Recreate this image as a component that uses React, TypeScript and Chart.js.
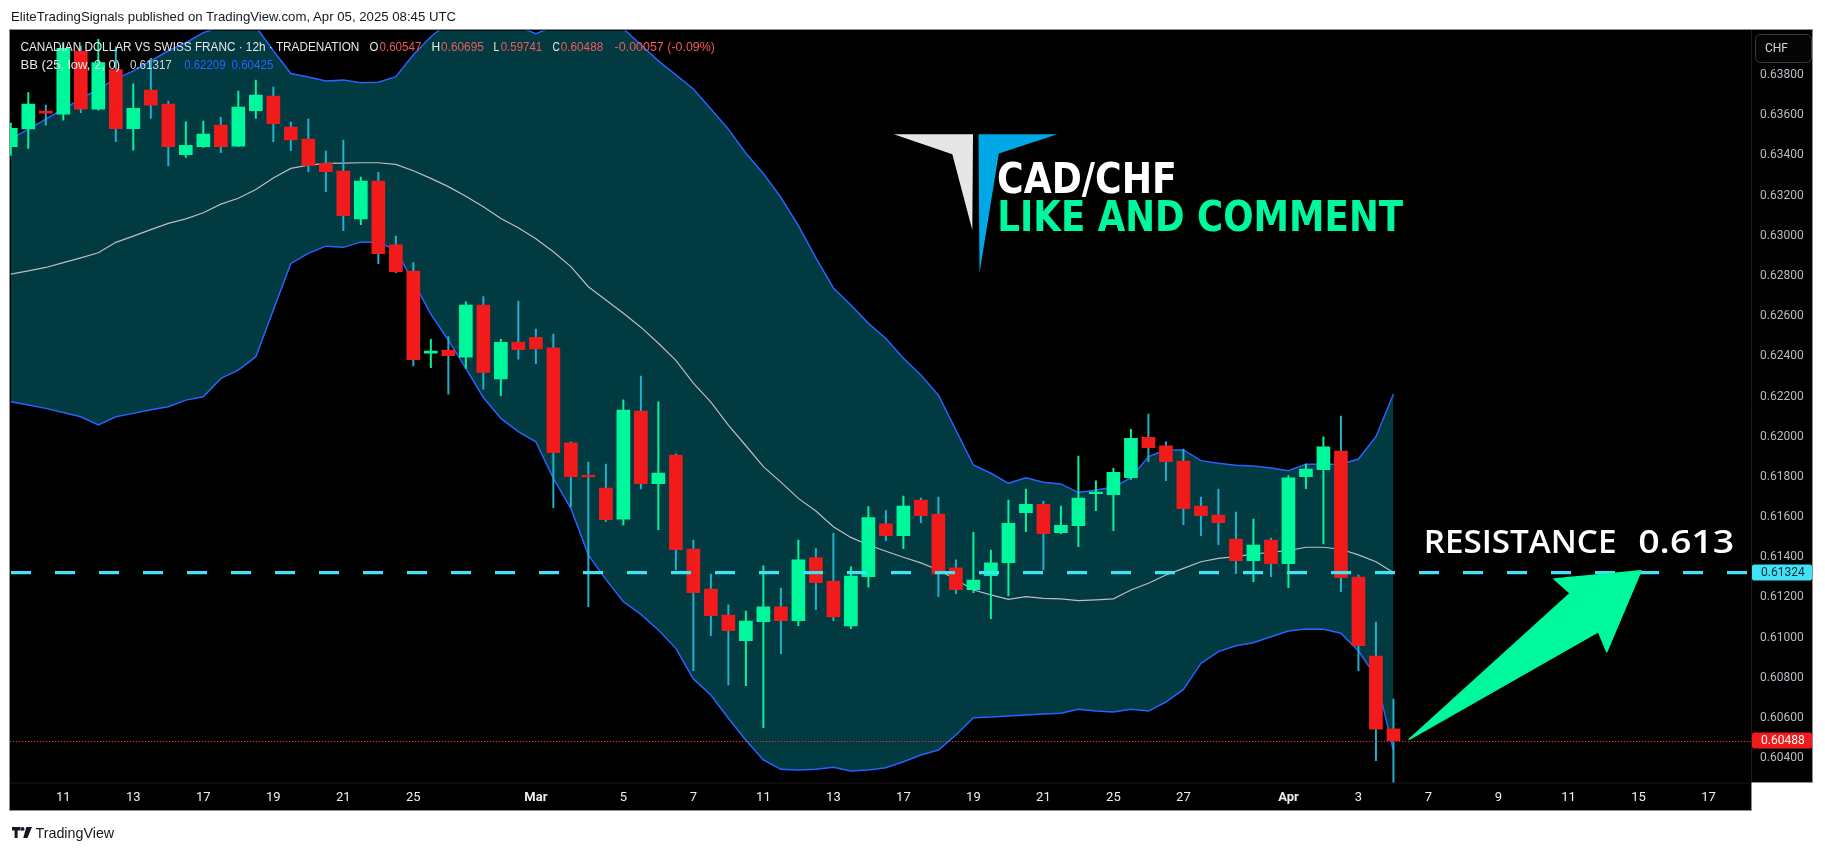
import React, { useEffect, useRef } from 'react';
import { Chart, registerables } from 'chart.js';

Chart.register(...registerables);

// ---------- data (12h candles, index 0 = "11" Feb) ----------
const firstIndex = -3;

const opens = [
  0.63443, 0.63531, 0.63620, 0.63605, 0.63919, 0.63630, 0.63827, 0.63532, 0.63725, 0.63655,
  0.63403, 0.63443, 0.63550, 0.63446, 0.63622, 0.63695, 0.63540, 0.63481, 0.63360, 0.63322,
  0.63083, 0.63272, 0.62954, 0.62824, 0.62415, 0.62431, 0.62396, 0.62655, 0.62288, 0.62471,
  0.62495, 0.62442, 0.61969, 0.61806, 0.61745, 0.61590, 0.62128, 0.61766, 0.61909, 0.61441,
  0.61242, 0.61113, 0.60985, 0.61080, 0.61153, 0.61085, 0.61398, 0.61282, 0.61058, 0.61304,
  0.61566, 0.61508, 0.61685, 0.61615, 0.61347, 0.61239, 0.61309, 0.61373, 0.61622, 0.61664,
  0.61523, 0.61557, 0.61717, 0.61712, 0.61796, 0.61997, 0.61954, 0.61879, 0.61655, 0.61610,
  0.61491, 0.61383, 0.61486, 0.61368, 0.61801, 0.61836, 0.61929, 0.61302, 0.60909, 0.60547,
];
const highs = [
  0.63560, 0.63712, 0.63650, 0.63957, 0.63943, 0.63977, 0.63940, 0.63755, 0.63882, 0.63670,
  0.63567, 0.63570, 0.63589, 0.63720, 0.63774, 0.63740, 0.63565, 0.63580, 0.63421, 0.63476,
  0.63292, 0.63315, 0.62998, 0.62866, 0.62484, 0.62498, 0.62671, 0.62697, 0.62484, 0.62675,
  0.62536, 0.62511, 0.61975, 0.61874, 0.61864, 0.62183, 0.62302, 0.62173, 0.61915, 0.61486,
  0.61317, 0.61163, 0.61133, 0.61357, 0.61247, 0.61486, 0.61443, 0.61519, 0.61353, 0.61652,
  0.61632, 0.61705, 0.61695, 0.61700, 0.61387, 0.61524, 0.61436, 0.61685, 0.61740, 0.61680,
  0.61655, 0.61904, 0.61780, 0.61843, 0.62037, 0.62113, 0.61974, 0.61939, 0.61700, 0.61740,
  0.61625, 0.61590, 0.61496, 0.61806, 0.61864, 0.61999, 0.62103, 0.61312, 0.61078, 0.60695,
];
const lows = [
  0.63400, 0.63434, 0.63550, 0.63575, 0.63612, 0.63625, 0.63468, 0.63426, 0.63584, 0.63347,
  0.63390, 0.63439, 0.63413, 0.63443, 0.63584, 0.63468, 0.63423, 0.63318, 0.63219, 0.63025,
  0.63055, 0.62861, 0.62816, 0.62352, 0.62344, 0.62211, 0.62340, 0.62237, 0.62204, 0.62386,
  0.62363, 0.61647, 0.61652, 0.61154, 0.61577, 0.61561, 0.61740, 0.61538, 0.61337, 0.60836,
  0.61010, 0.60765, 0.60761, 0.60552, 0.60920, 0.61060, 0.61139, 0.61085, 0.61045, 0.61251,
  0.61483, 0.61443, 0.61572, 0.61204, 0.61219, 0.61224, 0.61095, 0.61208, 0.61528, 0.61337,
  0.61518, 0.61453, 0.61632, 0.61533, 0.61788, 0.61876, 0.61781, 0.61562, 0.61508, 0.61463,
  0.61319, 0.61279, 0.61304, 0.61249, 0.61742, 0.61466, 0.61229, 0.60836, 0.60388, 0.59741,
];
const closes = [
  0.63534, 0.63655, 0.63610, 0.63932, 0.63630, 0.63861, 0.63532, 0.63634, 0.63650, 0.63443,
  0.63449, 0.63506, 0.63443, 0.63640, 0.63700, 0.63557, 0.63477, 0.63348, 0.63318, 0.63100,
  0.63272, 0.62910, 0.62821, 0.62383, 0.62426, 0.62403, 0.62655, 0.62320, 0.62470, 0.62433,
  0.62437, 0.61921, 0.61801, 0.61800, 0.61587, 0.62133, 0.61766, 0.61819, 0.61438, 0.61224,
  0.61110, 0.61035, 0.61083, 0.61153, 0.61085, 0.61387, 0.61274, 0.61103, 0.61307, 0.61597,
  0.61508, 0.61655, 0.61607, 0.61317, 0.61239, 0.61287, 0.61372, 0.61569, 0.61664, 0.61518,
  0.61559, 0.61695, 0.61720, 0.61823, 0.61992, 0.61946, 0.61876, 0.61642, 0.61607, 0.61572,
  0.61383, 0.61461, 0.61368, 0.61795, 0.61839, 0.61949, 0.61299, 0.60960, 0.60545, 0.60488,
];

const bbUpper = [
  0.6348, 0.6353, 0.6358, 0.6363, 0.6368, 0.6373, 0.6378, 0.6382, 0.6387, 0.6392,
  0.6396, 0.6401, 0.6404, 0.6406, 0.6404, 0.6392, 0.63807, 0.6379, 0.6377, 0.63774,
  0.63761, 0.63763, 0.63791, 0.6390, 0.6399, 0.6406, 0.6410, 0.6412, 0.6410, 0.6404,
  0.64005, 0.6404, 0.6406, 0.6407, 0.6405, 0.6403, 0.6395, 0.6387, 0.6380, 0.6373,
  0.6363, 0.6353, 0.6341, 0.6331, 0.6319, 0.6305, 0.6289, 0.62740, 0.62655, 0.62564,
  0.62489, 0.62390, 0.62307, 0.62207, 0.62033, 0.61859, 0.61818, 0.61768, 0.61796, 0.61773,
  0.61765, 0.61722, 0.61735, 0.61748, 0.61796, 0.61901, 0.61934, 0.61934, 0.61881, 0.61868,
  0.61858, 0.61854, 0.61844, 0.61831, 0.61863, 0.61863, 0.61863, 0.61889, 0.62000, 0.62212,
];
const bbMiddle = [
  0.62809, 0.62825, 0.62842, 0.62866, 0.62890, 0.62915, 0.62967, 0.62998, 0.63030, 0.63061,
  0.63084, 0.63114, 0.63157, 0.63186, 0.63230, 0.63287, 0.63335, 0.63351, 0.63360, 0.63361,
  0.63363, 0.63363, 0.63355, 0.63323, 0.63285, 0.63244, 0.63196, 0.63144, 0.63086, 0.63040,
  0.62985, 0.62920, 0.62846, 0.62746, 0.62680, 0.62614, 0.62545, 0.62465, 0.62380, 0.62266,
  0.62172, 0.62058, 0.61955, 0.61851, 0.61774, 0.61693, 0.61630, 0.61552, 0.61499, 0.61461,
  0.61430, 0.61400, 0.61372, 0.61337, 0.61290, 0.61237, 0.61213, 0.61191, 0.61204, 0.61196,
  0.61193, 0.61184, 0.61188, 0.61193, 0.61237, 0.61271, 0.61312, 0.61345, 0.61378, 0.61395,
  0.61403, 0.61416, 0.61425, 0.61433, 0.61450, 0.61450, 0.61440, 0.61412, 0.61378, 0.61324,
];
const bbLower = [
  0.62174, 0.62158, 0.62141, 0.62120, 0.62099, 0.62058, 0.62099, 0.62116, 0.62134, 0.62149,
  0.62182, 0.62199, 0.62290, 0.62331, 0.62398, 0.62630, 0.62862, 0.62912, 0.62948, 0.62942,
  0.62968, 0.62968, 0.62928, 0.62770, 0.62610, 0.62480, 0.62340, 0.62195, 0.62091, 0.62025,
  0.61975, 0.61793, 0.61644, 0.61411, 0.61290, 0.61179, 0.61116, 0.61038, 0.60947, 0.60795,
  0.60715, 0.60599, 0.60490, 0.60392, 0.60345, 0.60342, 0.60345, 0.60355, 0.60337, 0.60342,
  0.60353, 0.60383, 0.60416, 0.60441, 0.60516, 0.60602, 0.60605, 0.60610, 0.60615, 0.60620,
  0.60624, 0.60644, 0.60635, 0.60630, 0.60644, 0.60635, 0.60680, 0.60743, 0.60872, 0.60931,
  0.60960, 0.60975, 0.61005, 0.61033, 0.61043, 0.61042, 0.61022, 0.60934, 0.60806, 0.60438,
];

const xTickIndex = [0, 4, 8, 12, 16, 20, 27, 32, 36, 40, 44, 48, 52, 56, 60, 64, 70, 74, 78, 82, 86, 90, 94];
const xTickLabels = ['11', '13', '17', '19', '21', '25', 'Mar', '5', '7', '11', '13', '17', '19', '21', '25', '27', 'Apr', '3', '7', '9', '11', '15', '17'];
const monthLabels = ['Mar', 'Apr'];
const yTicks = [0.604, 0.606, 0.608, 0.61, 0.612, 0.614, 0.616, 0.618, 0.62, 0.622, 0.624, 0.626, 0.628, 0.63, 0.632, 0.634, 0.636, 0.638];

const resistanceLevel = 0.61324;
const bbLegendValues = ['0.61317', '0.62209', '0.60425'];
// arrow annotation in (candle index, price)
const arrowPath = [
  [76.9, 0.604945], [86.1, 0.612209], [85.18, 0.61292], [90.15, 0.613333], [88.19, 0.609303], [87.71, 0.610299],
];

// ---------- styles ----------
const UP = '#00f89c';
const DOWN = '#f21b1b';
const WICK_DOWN = '#20b4cc';
const BAND_LINE = '#2962ff';
const BAND_MID = '#bdbdbd';
const BAND_FILL = '#013a41';
const LEVEL_CYAN = '#3fe3f5';
const LEGEND_RED = '#f15a5a';

function fitText(ctx: CanvasRenderingContext2D, text: string, x: number, y: number, w: number, font: string, color: string, spacing = 0) {
  ctx.save();
  ctx.font = font;
  if (spacing) (ctx as any).letterSpacing = spacing + 'px';
  ctx.fillStyle = color;
  ctx.textAlign = 'left';
  ctx.textBaseline = 'alphabetic';
  const m = ctx.measureText(text);
  const ink = m.actualBoundingBoxLeft + m.actualBoundingBoxRight;
  const s = ink > 0 ? w / ink : 1;
  ctx.translate(x + m.actualBoundingBoxLeft * s, y);
  ctx.scale(s, 1);
  ctx.fillText(text, 0, 0);
  ctx.restore();
}

function poly(ctx: CanvasRenderingContext2D, pts: number[][], color: string) {
  ctx.beginPath();
  pts.forEach((p, k) => (k ? ctx.lineTo(p[0], p[1]) : ctx.moveTo(p[0], p[1])));
  ctx.closePath();
  ctx.fillStyle = color;
  ctx.fill();
}

function rrect(ctx: CanvasRenderingContext2D, x: number, y: number, w: number, h: number, r: number) {
  ctx.beginPath();
  ctx.moveTo(x + r, y);
  ctx.arcTo(x + w, y, x + w, y + h, r);
  ctx.arcTo(x + w, y + h, x, y + h, r);
  ctx.arcTo(x, y + h, x, y, r);
  ctx.arcTo(x, y, x + w, y, r);
  ctx.closePath();
}

const overlayPlugin = {
  id: 'tvOverlay',
  beforeDraw(chart: any) {
    const ctx: CanvasRenderingContext2D = chart.ctx;
    const a = chart.chartArea;
    ctx.save();
    ctx.beginPath();
    ctx.moveTo(9.5, 29.5);
    ctx.lineTo(1812.5, 29.5);
    ctx.lineTo(1812.5, a.bottom);
    ctx.lineTo(a.right + 0.5, a.bottom);
    ctx.lineTo(a.right + 0.5, 810.5);
    ctx.lineTo(9.5, 810.5);
    ctx.closePath();
    ctx.fillStyle = '#000';
    ctx.fill();
    ctx.strokeStyle = '#8e8e8e';
    ctx.lineWidth = 1;
    ctx.stroke();
    ctx.strokeStyle = '#1b1b1b';
    ctx.beginPath();
    ctx.moveTo(a.right + 0.5, 30);
    ctx.lineTo(a.right + 0.5, a.bottom);
    ctx.moveTo(10, a.bottom + 0.5);
    ctx.lineTo(a.right, a.bottom + 0.5);
    ctx.stroke();
    ctx.restore();
  },
  afterDatasetsDraw(chart: any) {
    const ctx: CanvasRenderingContext2D = chart.ctx;
    const a = chart.chartArea;
    const xs = chart.scales.x;
    const ys = chart.scales.y;
    ctx.save();
    ctx.beginPath();
    ctx.rect(a.left, a.top, a.right - a.left, a.bottom - a.top);
    ctx.clip();

    // last price dotted line
    const yLast = ys.getPixelForValue(closes[closes.length - 1]);
    ctx.strokeStyle = '#ff2a2a';
    ctx.lineWidth = 1;
    ctx.setLineDash([1.2, 1.8]);
    ctx.beginPath();
    ctx.moveTo(a.left, Math.round(yLast) + 0.5);
    ctx.lineTo(a.right, Math.round(yLast) + 0.5);
    ctx.stroke();

    // resistance dashed line
    const yRes = ys.getPixelForValue(resistanceLevel);
    ctx.strokeStyle = LEVEL_CYAN;
    ctx.lineWidth = 3.3;
    ctx.setLineDash([20, 24]);
    ctx.lineDashOffset = -1;
    ctx.beginPath();
    ctx.moveTo(a.left, yRes);
    ctx.lineTo(a.right, yRes);
    ctx.stroke();
    ctx.setLineDash([]);

    // arrow
    const pts = arrowPath.map(([i, p]) => [xs.getPixelForValue(i), ys.getPixelForValue(p)]);
    poly(ctx, pts, UP);
    ctx.strokeStyle = UP;
    ctx.lineJoin = 'round';
    ctx.lineWidth = 1.5;
    ctx.stroke();

    // resistance text
    fitText(ctx, 'RESISTANCE', 1426.7, 553.3, 188.3, '600 33px "Open Sans"', '#ffffff');
    fitText(ctx, '0.613', 1639.3, 553.3, 94, '600 33px "Open Sans"', '#ffffff');

    // logo
    poly(ctx, [[893.8, 134.3], [973, 134.3], [972.3, 230], [952.3, 154.3]], '#e6e6e6');
    poly(ctx, [[978.5, 134.3], [1057.3, 134.3], [998.8, 153.5], [979.5, 273]], '#00a9e6');
    fitText(ctx, 'CAD/CHF', 998.8, 192.7, 175.6, 'bold 42px "DejaVu Sans"', '#ffffff');
    fitText(ctx, 'LIKE AND COMMENT', 999.8, 231, 403.6, 'bold 42px "DejaVu Sans"', UP);
    ctx.restore();
  },
  afterDraw(chart: any) {
    const ctx: CanvasRenderingContext2D = chart.ctx;
    const ys = chart.scales.y;
    const a = chart.chartArea;
    const k = closes.length - 1;
    const chg = closes[k] - closes[k - 1];
    const pct = (chg / closes[k - 1]) * 100;
    const f = '12px "Liberation Sans"';
    const W = '#e8e8e8';
    // legend line 1
    fitText(ctx, 'CANADIAN DOLLAR VS SWISS FRANC · 12h · TRADENATION', 20.4, 50.7, 338.3, f, W);
    fitText(ctx, 'O', 369.4, 50.7, 8.6, f, W);
    fitText(ctx, opens[k].toFixed(5), 379.5, 50.7, 42.2, f, LEGEND_RED);
    fitText(ctx, 'H', 431.4, 50.7, 8, f, W);
    fitText(ctx, highs[k].toFixed(5), 441, 50.7, 43.2, f, LEGEND_RED);
    fitText(ctx, 'L', 493.5, 50.7, 6, f, W);
    fitText(ctx, lows[k].toFixed(5), 500.7, 50.7, 41.8, f, LEGEND_RED);
    fitText(ctx, 'C', 552.6, 50.7, 7.6, f, W);
    fitText(ctx, closes[k].toFixed(5), 560.8, 50.7, 42.7, f, LEGEND_RED);
    fitText(ctx, `${chg.toFixed(5)} (${pct.toFixed(2)}%)`, 614.6, 50.7, 100.4, f, LEGEND_RED);
    // legend line 2
    fitText(ctx, 'BB (25, low, 2, 0)', 20.4, 69.3, 99.8, f, W);
    fitText(ctx, bbLegendValues[0], 129.9, 69.3, 42.2, f, '#d1d4dc');
    fitText(ctx, bbLegendValues[1], 184.2, 69.3, 41.7, f, BAND_LINE);
    fitText(ctx, bbLegendValues[2], 231.5, 69.3, 42.2, f, BAND_LINE);

    // price boxes on axis
    const box = (v: number, bg: string, fg: string) => {
      const y = ys.getPixelForValue(v);
      ctx.save();
      rrect(ctx, a.right + 1, y - 8, 60, 16, 2);
      ctx.fillStyle = bg;
      ctx.fill();
      ctx.font = '12px Roboto';
      ctx.fillStyle = fg;
      ctx.textAlign = 'left';
      ctx.textBaseline = 'middle';
      ctx.fillText(v.toFixed(5), a.right + 10, y + 0.5);
      ctx.restore();
    };
    box(resistanceLevel, LEVEL_CYAN, '#0b2433');
    box(closes[k], DOWN, '#ffffff');

    // currency button
    ctx.save();
    rrect(ctx, 1755.5, 34.5, 56, 28, 5);
    ctx.fillStyle = '#050505';
    ctx.fill();
    ctx.strokeStyle = '#3a3a3a';
    ctx.lineWidth = 1;
    ctx.stroke();
    ctx.font = '12px Roboto';
    ctx.fillStyle = '#d1d4dc';
    ctx.textAlign = 'left';
    ctx.textBaseline = 'middle';
    ctx.fillText('CHF', 1765, 49);
    ctx.restore();
  },
};

export default function App() {
  const canvasRef = useRef<HTMLCanvasElement | null>(null);

  useEffect(() => {
    document.body.style.margin = '0';
    document.body.style.overflow = 'hidden';
    const idx = opens.map((_, k) => firstIndex + k);
    const up = opens.map((o, k) => closes[k] >= o);
    const bodyData = idx.map((x, k) => ({ x, y: [Math.min(opens[k], closes[k]), Math.max(opens[k], closes[k])] }));
    const wickData = idx.map((x, k) => ({ x, y: [lows[k], highs[k]] }));
    const line = (arr: number[]) => idx.map((x, k) => ({ x, y: arr[k] }));

    const chart = new Chart(canvasRef.current as HTMLCanvasElement, {
      type: 'bar',
      data: {
        datasets: [
          {
            type: 'line', data: line(bbUpper), borderColor: BAND_LINE, borderWidth: 1.5, pointRadius: 0,
            fill: { target: 2, above: BAND_FILL, below: BAND_FILL }, order: 7, tension: 0,
          } as any,
          { type: 'line', data: line(bbMiddle), borderColor: BAND_MID, borderWidth: 1.2, pointRadius: 0, fill: false, order: 5 } as any,
          { type: 'line', data: line(bbLower), borderColor: BAND_LINE, borderWidth: 1.5, pointRadius: 0, fill: false, order: 6 } as any,
          {
            type: 'bar', data: wickData, backgroundColor: up.map((u) => (u ? UP : WICK_DOWN)), barThickness: 1.3,
            grouped: false, order: 2, clip: 0, borderWidth: 0,
          } as any,
          {
            type: 'bar', data: bodyData, backgroundColor: up.map((u) => (u ? UP : DOWN)), barThickness: 13,
            grouped: false, order: 1, clip: 0, borderWidth: 0, minBarLength: 1.5,
          } as any,
        ],
      },
      options: {
        responsive: false,
        animation: false,
        events: [],
        layout: { padding: { left: 10, top: 30.5, right: 12, bottom: 41 } },
        plugins: { legend: { display: false }, tooltip: { enabled: false }, title: { display: false } },
        scales: {
          x: {
            type: 'linear', min: -3.046, max: 96.43, offset: false, bounds: 'data',
            grid: { display: false, drawTicks: false }, border: { display: false },
            afterBuildTicks: (s: any) => { s.ticks = xTickIndex.map((v) => ({ value: v })); },
            afterFit: (s: any) => { s.height = 28.5; },
            ticks: {
              autoSkip: false, maxRotation: 0, minRotation: 0, padding: 7, color: '#eeeeee',
              callback: (v: any) => { const j = xTickIndex.indexOf(Number(v)); return j >= 0 ? xTickLabels[j] : ''; },
              font: (c: any) => {
                const j = xTickIndex.indexOf(c.tick ? c.tick.value : -999);
                const lbl = j >= 0 ? xTickLabels[j] : '';
                return { family: 'Roboto', size: 13, weight: monthLabels.includes(lbl) ? 'bold' : 'normal' };
              },
            },
          } as any,
          y: {
            type: 'linear', position: 'right', min: 0.602796, max: 0.640209, bounds: 'data',
            grid: { display: false, drawTicks: false }, border: { display: false },
            afterBuildTicks: (s: any) => { s.ticks = yTicks.map((v) => ({ value: v })); },
            afterFit: (s: any) => { s.width = 62; },
            ticks: { padding: 9, color: '#b8bcc4', font: { family: 'Roboto', size: 12 }, callback: (v: any) => Number(v).toFixed(5) },
          } as any,
        },
      },
      plugins: [overlayPlugin],
    } as any);
    return () => chart.destroy();
  }, []);

  return (
    <div style={{ position: 'fixed', left: 0, top: 0, width: 1825, height: 852, background: '#ffffff', overflow: 'hidden' }}>
      <canvas ref={canvasRef} width={1825} height={852} style={{ position: 'absolute', left: 0, top: 0, width: 1825, height: 852 }} />
      <div style={{ position: 'absolute', left: 11, top: 9.6, font: '13.2px "Liberation Sans", Arial, sans-serif', lineHeight: '13.2px', color: '#131722', whiteSpace: 'nowrap' }}>
        EliteTradingSignals published on TradingView.com, Apr 05, 2025 08:45 UTC
      </div>
      <div style={{ position: 'absolute', left: 11.5, top: 825.5, display: 'flex', alignItems: 'center', gap: 4, color: '#131722', whiteSpace: 'nowrap' }}>
        <svg width="20" height="11" viewBox="0 0 20 11">
          <path d="M0 0h8.5v3.6H5.6V11H2.6V3.6H0z" fill="#131722" />
          <circle cx="10.6" cy="1.9" r="1.9" fill="#131722" />
          <path d="M14.3 0H20l-4.6 11h-4.2z" fill="#131722" />
        </svg>
        <span style={{ font: '14.3px "Liberation Sans", Arial, sans-serif', lineHeight: '14.3px' }}>TradingView</span>
      </div>
    </div>
  );
}
